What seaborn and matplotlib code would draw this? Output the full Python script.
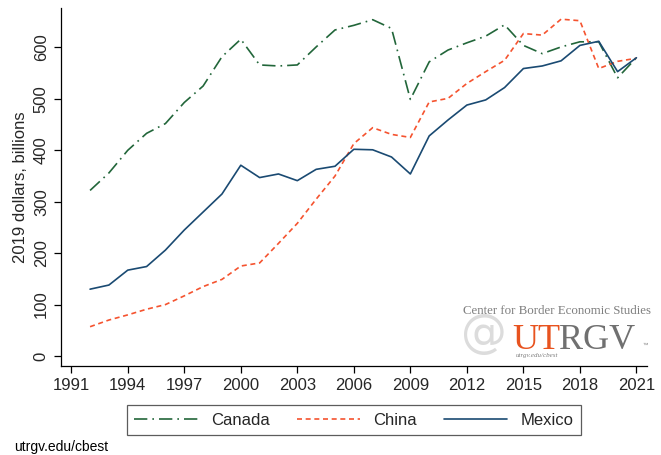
import pandas as pd
import matplotlib.pyplot as plt
import seaborn as sns

years = list(range(1992, 2022))
canada = [322, 356, 400, 433, 452, 493, 525, 582, 616, 566, 564, 566, 601, 634,
          643, 654, 637, 499, 572, 595, 609, 622, 644, 604, 588, 601, 611, 611, 541, 580]
china = [57, 70, 80, 91, 100, 117, 135, 149, 175, 181, 219, 258, 305, 350,
         413, 444, 431, 425, 494, 501, 530, 553, 575, 627, 624, 655, 652, 559, 573, 579]
mexico = [130, 138, 167, 174, 206, 245, 280, 315, 371, 347, 354, 341, 363, 369,
          402, 401, 387, 354, 428, 459, 488, 498, 522, 559, 564, 574, 604, 612, 553, 580]
xticks = list(range(1991, 2022, 3))
yticks = [0, 100, 200, 300, 400, 500, 600]

df = pd.DataFrame({'Year': years, 'Canada': canada, 'China': china, 'Mexico': mexico})
long_df = df.melt(id_vars='Year', var_name='Country', value_name='Value')

sns.set_style('ticks')
plt.rcParams['font.family'] = ['Liberation Sans', 'DejaVu Sans']

fig = plt.figure(figsize=(6.61, 4.55), dpi=100)
ax = fig.add_axes([0.0918, 0.1956, 0.887, 0.786])

palette = {'Canada': '#22663a', 'China': '#f5532f', 'Mexico': '#1a4a72'}
dashes = {'Canada': (8, 3, 1, 3), 'China': (3, 2.2), 'Mexico': ''}
sns.lineplot(data=long_df, x='Year', y='Value', hue='Country', style='Country',
             palette=palette, dashes=dashes, linewidth=1.2, ax=ax, legend=True)

ax.set_xlim(1990.44, 2021.56)
ax.set_ylim(-19.4, 676)
ax.set_xticks(xticks)
ax.set_yticks(yticks)
ax.set_yticklabels([str(v) for v in yticks], rotation=90, va='center')
ax.tick_params(axis='both', labelsize=12, length=5, width=0.9, color='black')
ax.set_xlabel('')
ax.set_ylabel('2019 dollars, billions', fontsize=12)
sns.despine(ax=ax)
for s in ['left', 'bottom']:
    ax.spines[s].set_linewidth(0.9)
    ax.spines[s].set_color('black')

leg = ax.legend(loc='upper center', bbox_to_anchor=(0.5, -0.11), ncol=3,
                fontsize=12, handlelength=3.8, columnspacing=1.6, fancybox=False,
                frameon=True, borderpad=0.45, borderaxespad=0, title=None)
leg.get_frame().set_edgecolor('#333333')
leg.get_frame().set_linewidth(0.9)

# logo
fig.text(0.700, 0.3175, 'Center for Border Economic Studies', family='Liberation Serif',
         fontsize=9.3, color='#7f7f7f', ha='left', va='center')
fig.text(0.698, 0.264, '@', family='DejaVu Sans', fontsize=33, color='#dcdcdc',
         ha='left', va='center')
fig.text(0.7746, 0.233, 'UT', family='Liberation Serif', fontsize=26, color='#e8531f',
         ha='left', va='baseline')
fig.text(0.846, 0.233, 'RGV', family='Liberation Serif', fontsize=26, color='#707070',
         ha='left', va='baseline')
fig.text(0.780, 0.224, 'utrgv.edu/cbest', family='Liberation Serif', style='italic',
         fontsize=5, color='#7f7f7f', ha='left', va='top')
fig.text(0.972, 0.240, '\u2122', fontsize=4, color='#7f7f7f', ha='left', va='center')

fig.text(0.022, 0.003, 'utrgv.edu/cbest', fontsize=10, color='black', ha='left', va='bottom')

plt.savefig('out.png', dpi=100)
